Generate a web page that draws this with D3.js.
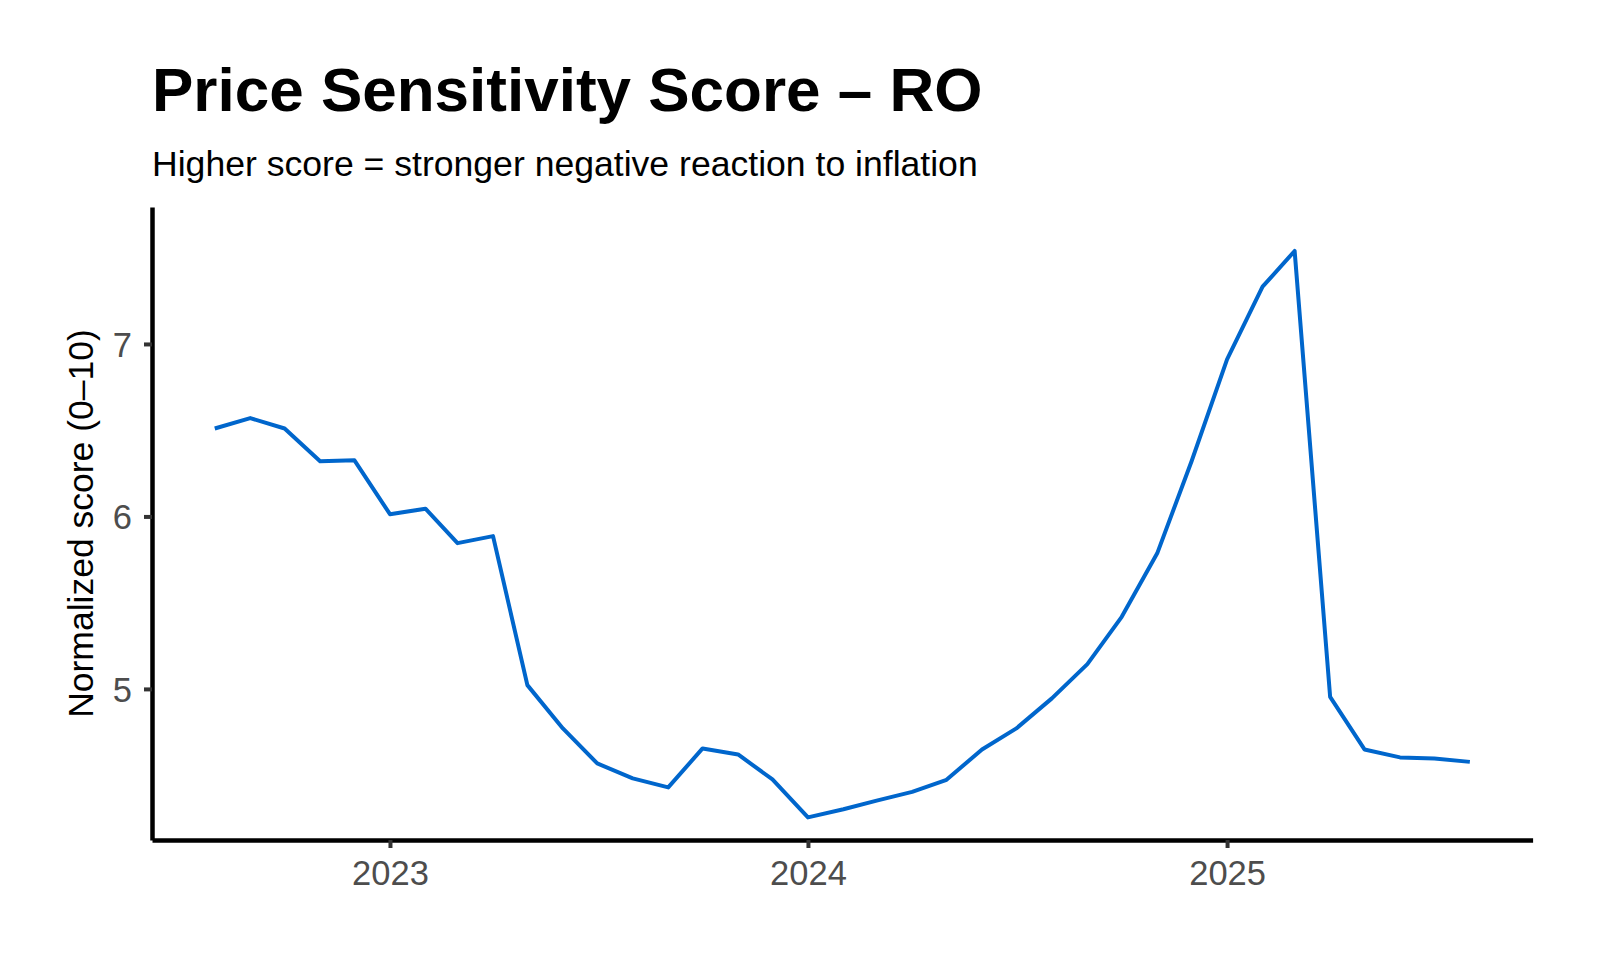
<!DOCTYPE html>
<html lang="en">
<head>
  <meta charset="UTF-8" />
  <title>Price Sensitivity Score – RO</title>
  <script src="https://d3js.org/d3.v7.min.js"></script>
  <style>
    body { margin: 0; background: #fff; }
    svg { display: block; font-family: "Liberation Sans", Arial, Helvetica, sans-serif; }
    .line { fill: none; stroke: #0066CC; stroke-width: 4px; stroke-linejoin: round; }
  </style>
</head>
<body>
<svg id="chart" width="1600" height="960"></svg>

<script>
// monthly scores, Aug 2022 .. Aug 2025
const months = [
  "2022-08", "2022-09", "2022-10", "2022-11", "2022-12",
  "2023-01", "2023-02", "2023-03", "2023-04", "2023-05", "2023-06",
  "2023-07", "2023-08", "2023-09", "2023-10", "2023-11", "2023-12",
  "2024-01", "2024-02", "2024-03", "2024-04", "2024-05", "2024-06",
  "2024-07", "2024-08", "2024-09", "2024-10", "2024-11", "2024-12",
  "2025-01", "2025-02", "2025-03", "2025-04", "2025-05", "2025-06",
  "2025-07", "2025-08"
];
const scores = [
  6.51, 6.57, 6.51, 6.32, 6.325,
  6.013, 6.045, 5.845, 5.886, 5.022, 4.771,
  4.568, 4.481, 4.429, 4.655, 4.620, 4.475,
  4.255, 4.302, 4.352, 4.403, 4.473, 4.649,
  4.771, 4.945, 5.144, 5.418, 5.786, 6.32,
  6.911, 7.332, 7.539, 4.954, 4.649, 4.603,
  4.597, 4.577
];
const xTickYears = ["2023", "2024", "2025"];
const yTicks = [5, 6, 7];

const parseMonth = d3.utcParse("%Y-%m");
const data = months.map((m, i) => ({ date: parseMonth(m), score: scores[i] }));

const svg = d3.select("#chart");
const panel = { left: 152, right: 1532.6, top: 207, bottom: 840 };

// x domain: data extent padded by 5% like ggplot
const ext = d3.extent(data, d => d.date);
const pad = (ext[1] - ext[0]) * 0.05;
const x = d3.scaleUtc()
  .domain([new Date(+ext[0] - pad), new Date(+ext[1] + pad)])
  .range([panel.left, panel.right]);

const y = d3.scaleLinear()
  .domain([4.124, 7.794])
  .range([panel.bottom, panel.top]);

// title + subtitle
svg.append("text")
  .attr("x", 152).attr("y", 110.5)
  .attr("font-size", 62).attr("font-weight", "bold").attr("fill", "#000")
  .text("Price Sensitivity Score – RO");

svg.append("text")
  .attr("x", 152).attr("y", 176)
  .attr("font-size", 35.6).attr("fill", "#000")
  .text("Higher score = stronger negative reaction to inflation");

// line
svg.append("path")
  .datum(data)
  .attr("class", "line")
  .attr("d", d3.line().x(d => x(d.date)).y(d => y(d.score)));

// x axis
const xAxis = svg.append("g")
  .attr("transform", `translate(0,${panel.bottom})`)
  .call(d3.axisBottom(x)
    .tickValues(xTickYears.map(d3.utcParse("%Y")))
    .tickFormat(d3.utcFormat("%Y"))
    .tickSizeInner(8).tickSizeOuter(0).tickPadding(13));
xAxis.select(".domain").attr("stroke", "#000").attr("stroke-width", 4.5);
xAxis.selectAll(".tick line").attr("stroke", "#333").attr("stroke-width", 4);
xAxis.selectAll(".tick text")
  .attr("font-size", 34.5).attr("fill", "#4D4D4D")
  .attr("font-family", "Liberation Sans, Arial, sans-serif");

// y axis
const yAxis = svg.append("g")
  .attr("transform", `translate(${panel.left},0)`)
  .call(d3.axisLeft(y)
    .tickValues(yTicks)
    .tickFormat(d3.format("d"))
    .tickSizeInner(8).tickSizeOuter(0).tickPadding(12));
yAxis.select(".domain").attr("stroke", "#000").attr("stroke-width", 4.5);
yAxis.selectAll(".tick line").attr("stroke", "#333").attr("stroke-width", 4);
yAxis.selectAll(".tick text")
  .attr("font-size", 34.5).attr("fill", "#4D4D4D").attr("dy", "0.36em")
  .attr("font-family", "Liberation Sans, Arial, sans-serif");

// y axis title
svg.append("text")
  .attr("transform", `translate(93,${(panel.top + panel.bottom) / 2}) rotate(-90)`)
  .attr("text-anchor", "middle")
  .attr("font-size", 35.5).attr("fill", "#000")
  .text("Normalized score (0–10)");
</script>

</body>
</html>
